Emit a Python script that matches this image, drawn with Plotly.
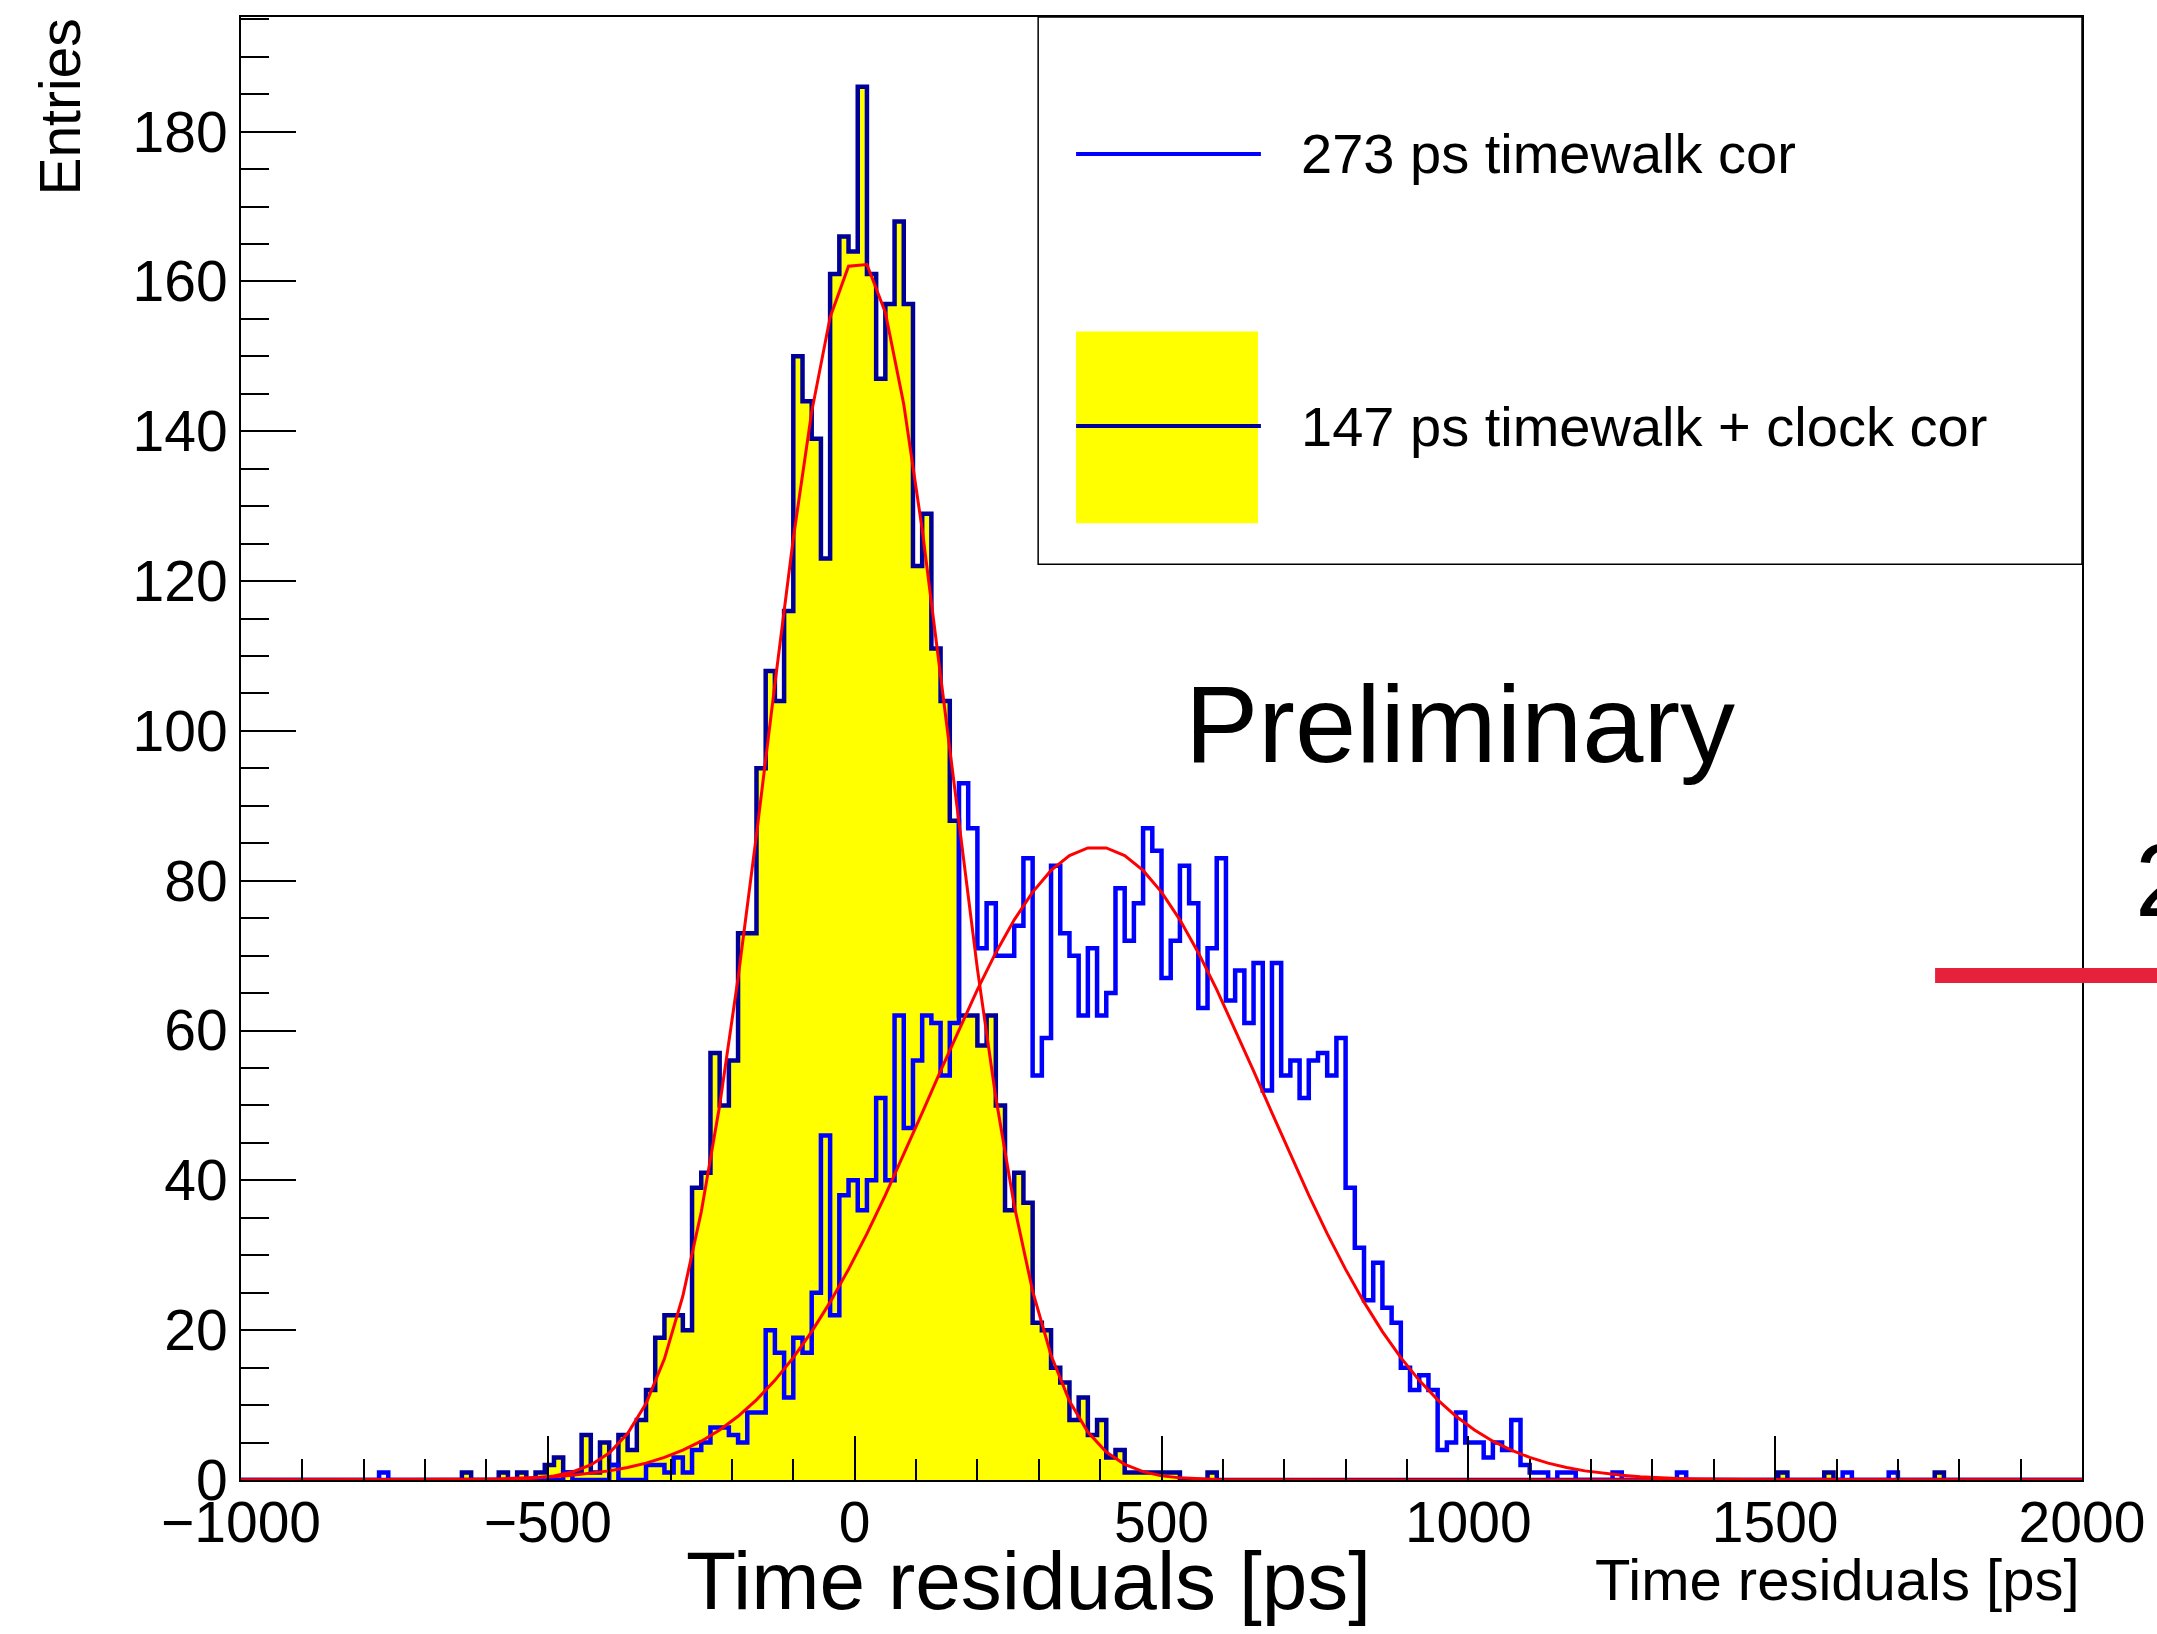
import numpy as np
import plotly.graph_objects as go

# ---------------- data ----------------
X_MIN, X_MAX, BIN_W = -1000, 2000, 15          # 200 bins of 15 ps
N_BINS = (X_MAX - X_MIN) // BIN_W
Y_MAX = 195.3

# "147 ps timewalk + clock cor" (yellow filled histogram)
clock_first_edge = -640
clock_counts = [1, 0, 0, 0, 1, 0, 1, 0, 1, 2, 3, 1, 1, 6, 1, 5, 2, 6, 4, 8,
                12, 19, 22, 22, 20, 39, 41, 57, 50, 56, 73, 73, 95, 108, 104, 116, 150, 144, 139, 123,
                161, 166, 164, 186, 161, 147, 157, 168, 157, 122, 129, 111, 104, 88, 62, 62, 58, 62, 50, 36,
                41, 37, 21, 20, 15, 13, 8, 11, 6, 8, 3, 4, 1, 1, 1, 1, 1, 1, 0, 0,
                0, 1]
clock_single_edges = [1505, 1580, 1760]

# "273 ps timewalk cor" (blue histogram)
walk_first_edge = -475
walk_counts = [1, 0, 0, 0, 0, 2, 0, 0, 0, 2, 2, 1, 3, 1, 4, 5, 7, 7, 6, 5,
               9, 9, 20, 17, 11, 19, 17, 25, 46, 22, 38, 40, 36, 40, 51, 40, 62, 47, 56, 62,
               61, 54, 61, 93, 87, 71, 77, 70, 70, 74, 83, 54, 59, 82, 73, 70, 62, 71, 62, 65,
               79, 72, 77, 87, 84, 67, 72, 82, 77, 63, 71, 83, 64, 68, 61, 69, 52, 69, 54, 56,
               51, 56, 57, 54, 59, 39, 31, 24, 29, 23, 21, 15, 12, 14, 12, 4, 5, 9, 5, 5,
               3, 5, 4, 8, 2, 1, 1, 0, 1, 1, 0, 0, 0, 0, 1]
walk_single_edges = [-775, 1340, 1610, 1685]

# Gaussian fit results (constant, mean [ps], sigma [ps])
fit_clock = (163.0, 6.0, 147.0)
fit_walk = (84.5, 395.0, 273.0)

x_tick_vals = [-1000, -500, 0, 500, 1000, 1500, 2000]
y_tick_vals = [0, 20, 40, 60, 80, 100, 120, 140, 160, 180]

legend_labels = ["273 ps timewalk cor", "147 ps timewalk + clock cor"]

# ---------------- build ----------------
edges = X_MIN + BIN_W * np.arange(N_BINS + 1)


def full_hist(first_edge, counts, singles):
    h = np.zeros(N_BINS)
    k0 = (first_edge - X_MIN) // BIN_W
    h[k0:k0 + len(counts)] = counts
    for e in singles:
        h[(e - X_MIN) // BIN_W] += 1
    return h


h_clock = full_hist(clock_first_edge, clock_counts, clock_single_edges)
h_walk = full_hist(walk_first_edge, walk_counts, walk_single_edges)

x_fit = np.linspace(X_MIN, X_MAX, 101)


def gaus(p, x):
    c, m, s = p
    return c * np.exp(-0.5 * ((x - m) / s) ** 2)


NAVY = "#000099"
BLUE = "#0000FF"
YELLOW = "#FFFF00"
RED = "#FF0000"
FONT = "Liberation Sans, Arial, Helvetica, sans-serif"

fig = go.Figure()
fig.add_trace(go.Scatter(x=edges, y=np.append(h_clock, h_clock[-1]), mode="lines",
                         line=dict(color=NAVY, width=4.5, shape="hv"),
                         fill="tozeroy", fillcolor=YELLOW, showlegend=False, hoverinfo="skip"))
fig.add_trace(go.Scatter(x=edges, y=np.append(h_walk, h_walk[-1]), mode="lines",
                         line=dict(color=BLUE, width=4.5, shape="hv"),
                         showlegend=False, hoverinfo="skip"))
fig.add_trace(go.Scatter(x=x_fit, y=gaus(fit_walk, x_fit), mode="lines",
                         line=dict(color=RED, width=3), showlegend=False, hoverinfo="skip"))
fig.add_trace(go.Scatter(x=x_fit, y=gaus(fit_clock, x_fit), mode="lines",
                         line=dict(color=RED, width=3), showlegend=False, hoverinfo="skip"))

axis_common = dict(showgrid=False, zeroline=False, showline=True, linecolor="black",
                   linewidth=2, mirror=True, ticks="inside", tickcolor="black", tickwidth=2,
                   tickfont=dict(family=FONT, size=57, color="black"))

fig.update_xaxes(range=[X_MIN, X_MAX], tickvals=x_tick_vals, ticklen=44,
                 ticklabelstandoff=-8,
                 minor=dict(dtick=100, tick0=0, ticks="inside", ticklen=21, tickwidth=2,
                            tickcolor="black"),
                 **axis_common)
fig.update_yaxes(range=[0, Y_MAX], tickvals=y_tick_vals, ticklen=55,
                 minor=dict(dtick=5, tick0=0, ticks="inside", ticklen=28, tickwidth=2,
                            tickcolor="black"),
                 **axis_common)

shapes = [
    # legend box
    dict(type="rect", xref="paper", yref="paper", x0=0.433, x1=1.0, y0=0.626, y1=1.0,
         line=dict(color="black", width=1.5), fillcolor="white", layer="above"),
    dict(type="line", xref="paper", yref="paper", x0=0.4536, x1=0.554, y0=0.9064, y1=0.9064,
         line=dict(color=BLUE, width=4), layer="above"),
    dict(type="rect", xref="paper", yref="paper", x0=0.4536, x1=0.5524, y0=0.654, y1=0.785,
         line=dict(width=0), fillcolor=YELLOW, layer="above"),
    dict(type="line", xref="paper", yref="paper", x0=0.4536, x1=0.554, y0=0.7204, y1=0.7204,
         line=dict(color=NAVY, width=4), layer="above"),
    # red bar from the slide at the right edge
    dict(type="rect", xref="paper", yref="paper", x0=0.9202, x1=1.06, y0=0.3397, y1=0.35,
         line=dict(width=0), fillcolor="#E5213B", layer="above"),
]

annotations = [
    dict(text=legend_labels[0], xref="paper", yref="paper", x=0.5746, y=0.9064,
         xanchor="left", yanchor="middle", showarrow=False,
         font=dict(family=FONT, size=56, color="black")),
    dict(text=legend_labels[1], xref="paper", yref="paper", x=0.5746, y=0.7204,
         xanchor="left", yanchor="middle", showarrow=False,
         font=dict(family=FONT, size=56, color="black")),
    dict(text="Preliminary", xref="paper", yref="paper", x=0.662, y=0.5168,
         xanchor="center", yanchor="middle", showarrow=False,
         font=dict(family=FONT, size=110, color="black")),
    dict(text="Time residuals [ps]", xref="paper", yref="paper", x=0.4276, y=-0.069,
         xanchor="center", yanchor="middle", showarrow=False,
         font=dict(family=FONT, size=82, color="black")),
    dict(text="Time residuals [ps]", xref="paper", yref="paper", x=1.0, y=-0.068,
         xanchor="right", yanchor="middle", showarrow=False,
         font=dict(family=FONT, size=58, color="black")),
    dict(text="Entries", xref="paper", yref="paper", x=-0.0988, y=1.0, textangle=-90,
         xanchor="center", yanchor="top", showarrow=False,
         font=dict(family=FONT, size=57, color="black")),
    dict(text="2", xref="paper", yref="paper", x=1.0277, y=0.41,
         xanchor="left", yanchor="middle", showarrow=False,
         font=dict(family=FONT, size=104, color="black")),
]

fig.update_layout(width=2157, height=1634, autosize=False,
                  margin=dict(l=241, r=73, t=17, b=154, pad=0),
                  paper_bgcolor="white", plot_bgcolor="white",
                  shapes=shapes, annotations=annotations, showlegend=False)

fig.write_html("out.html")
